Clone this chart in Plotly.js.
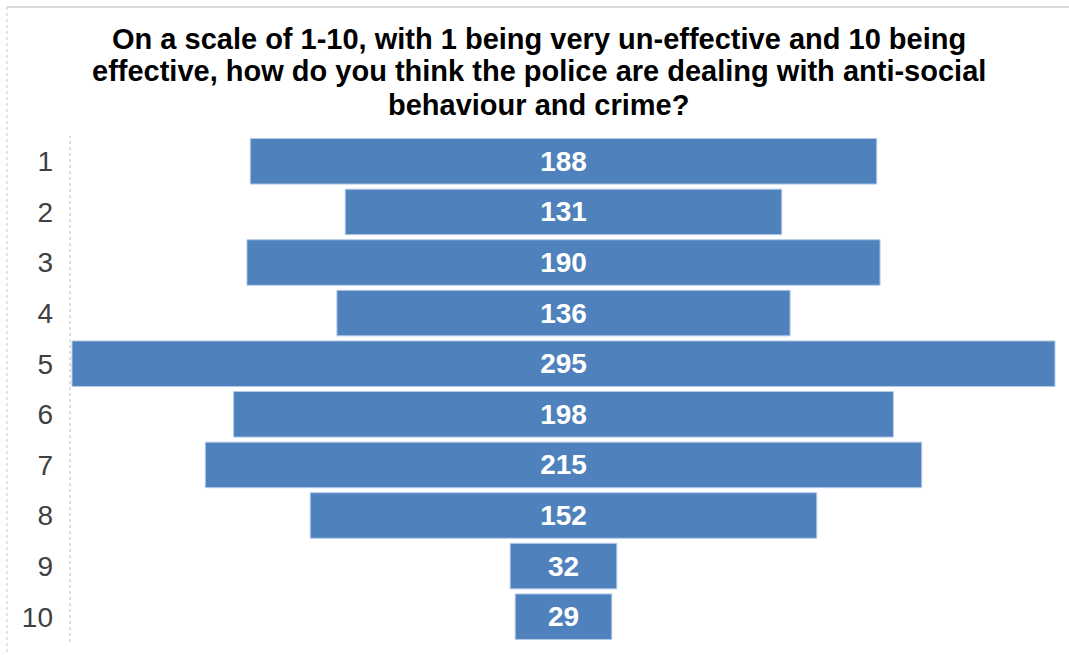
<!DOCTYPE html>
<html>
<head>
<meta charset="utf-8">
<script src="https://cdn.plot.ly/plotly-3.0.1.min.js"></script>
<style>html,body{margin:0;padding:0;background:#fff;}#chart{width:1069px;height:655px;}</style>
</head>
<body>
<div id="chart"></div>
<script>
const categories = ['1','2','3','4','5','6','7','8','9','10'];
const counts = [188, 131, 190, 136, 295, 198, 215, 152, 32, 29];
const titleLines = [
  'On a scale of 1-10, with 1 being very un-effective and 10 being',
  'effective, how do you think the police are dealing with anti-social',
  'behaviour and crime?'
];

const FONT = 'Liberation Sans, Arial, sans-serif';

const trace = {
  type: 'funnel',
  y: categories,
  x: counts,
  orientation: 'h',
  marker: {color: '#4F81BD', line: {color: '#b4cbe8', width: 1}},
  connector: {visible: false},
  textinfo: 'value',
  textposition: 'inside',
  insidetextanchor: 'middle',
  textfont: {family: FONT, size: 28, color: '#ffffff', weight: 'bold'},
  hoverinfo: 'x+y'
};

// title lines (placed individually to reproduce the tight line spacing)
const titleY = [1.1917, 1.1285, 1.0613];
const annotations = titleLines.map((t, i) => ({
  text: t, xref: 'paper', yref: 'paper', x: 0.475, y: titleY[i],
  xanchor: 'center', yanchor: 'middle', showarrow: false,
  font: {family: FONT, size: 29, color: '#000000', weight: 'bold'}
}));

const layout = {
  width: 1069, height: 655,
  margin: {l: 70, r: 12, t: 136, b: 13},
  paper_bgcolor: '#ffffff', plot_bgcolor: '#ffffff',
  showlegend: false,
  funnelgap: 0.1,
  annotations: annotations,
  xaxis: {range: [-148.1, 148.1], visible: false, fixedrange: true},
  yaxis: {
    type: 'category', categoryorder: 'array', categoryarray: categories,
    autorange: 'reversed',
    showline: false, showgrid: false, zeroline: false,
    ticks: '', ticklabelstandoff: 16,
    tickfont: {family: FONT, size: 28, color: '#404040'}
  },
  shapes: [
    {type: 'line', xref: 'paper', yref: 'paper', x0: 0, x1: 0, y0: 0, y1: 1,
     line: {color: '#c0c0c0', width: 1, dash: 'dot'}},
    {type: 'line', xref: 'paper', yref: 'paper', x0: -0.0638, x1: 1.02, y0: 1.255, y1: 1.255,
     line: {color: '#d9d9d9', width: 2}},
    {type: 'line', xref: 'paper', yref: 'paper', x0: -0.0638, x1: -0.0638, y0: 1.255, y1: -0.03,
     line: {color: '#c8c8c8', width: 1, dash: 'dot'}}
  ]
};

Plotly.newPlot('chart', [trace], layout, {displayModeBar: false, staticPlot: true});
</script>
</body>
</html>
